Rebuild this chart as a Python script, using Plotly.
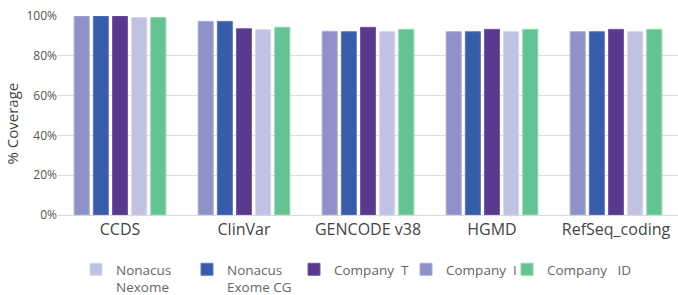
import plotly.graph_objects as go

categories = ["CCDS", "ClinVar", "GENCODE v38", "HGMD", "RefSeq_coding"]
series_names = ["Company\u00a0\u00a0I", "Nonacus<br>Exome CG", "Company\u00a0\u00a0T", "Nonacus<br>Nexome", "Company\u00a0\u00a0\u00a0ID"]
company_i = [100.0, 97.3, 92.3, 92.1, 92.1]
nonacus_exome_cg = [100.0, 97.3, 92.1, 92.1, 92.1]
company_t = [100.0, 93.6, 94.3, 93.3, 93.3]
nonacus_nexome = [99.2, 93.1, 92.1, 92.1, 92.1]
company_id = [99.2, 94.3, 93.3, 93.3, 93.3]
values = [company_i, nonacus_exome_cg, company_t, nonacus_nexome, company_id]
colors = ["#8e92c8", "#395ca9", "#58398c", "#c0c2e3", "#65c293"]
edge_colors = ["#a9acd6", "#5c7cc0", "#7658a6", "#d4d5ee", "#8ad6ae"]
legend_ids = ["legend4", "legend2", "legend3", "legend", "legend5"]
legend_left_px = [417, 198, 305, 87, 518]
y_ticks = [0, 20, 40, 60, 80, 100]
y_tick_text = ["0%", "20%", "40%", "60%", "80%", "100%"]
y_title = "% Coverage"

font_family = "Open Sans, sans-serif"
W, H = 678, 295

fig = go.Figure()
for name, vals, c, ec, lg in zip(series_names, values, colors, edge_colors, legend_ids):
    fig.add_trace(go.Bar(
        x=categories, y=vals, name=name,
        marker=dict(color=c, line=dict(color=ec, width=1)),
        legend=lg,
    ))

legend_layout = {}
for lg, px in zip(legend_ids, legend_left_px):
    legend_layout[lg] = dict(
        xref="container", yref="container",
        x=(px - 11) / W, xanchor="left",
        y=(H - 254) / H, yanchor="top",
        font=dict(size=13.5, color="#666666"),
        valign="top", bgcolor="rgba(0,0,0,0)",
    )

fig.update_layout(
    width=W, height=H,
    margin=dict(l=58, r=0, t=16, b=80, autoexpand=False),
    paper_bgcolor="white", plot_bgcolor="white",
    barmode="group", bargap=0.228, bargroupgap=0.214,
    font=dict(family=font_family, color="#555555", size=12),
    showlegend=True,
    xaxis=dict(
        showgrid=False, showline=True, linecolor="#d9d9d9", linewidth=1,
        tickfont=dict(size=16, color="#444444"), ticks="",
    ),
    yaxis=dict(
        range=[0, 100], tickvals=y_ticks, ticktext=y_tick_text,
        showgrid=True, gridcolor="#dddddd", gridwidth=1,
        zeroline=True, zerolinecolor="#d9d9d9", zerolinewidth=1,
        tickfont=dict(size=12, color="#555555"), ticks="",
    ),
    annotations=[dict(
        text=y_title, textangle=-90, showarrow=False,
        xref="paper", yref="paper", x=0, xshift=-46, xanchor="center",
        y=0.46, yanchor="middle",
        font=dict(size=15, color="#444444"),
    )],
    **legend_layout,
)

fig.write_html(
    "out.html",
    config={"displayModeBar": False},
    post_script="document.body.style.margin='0px';document.body.style.overflow='hidden';",
)
